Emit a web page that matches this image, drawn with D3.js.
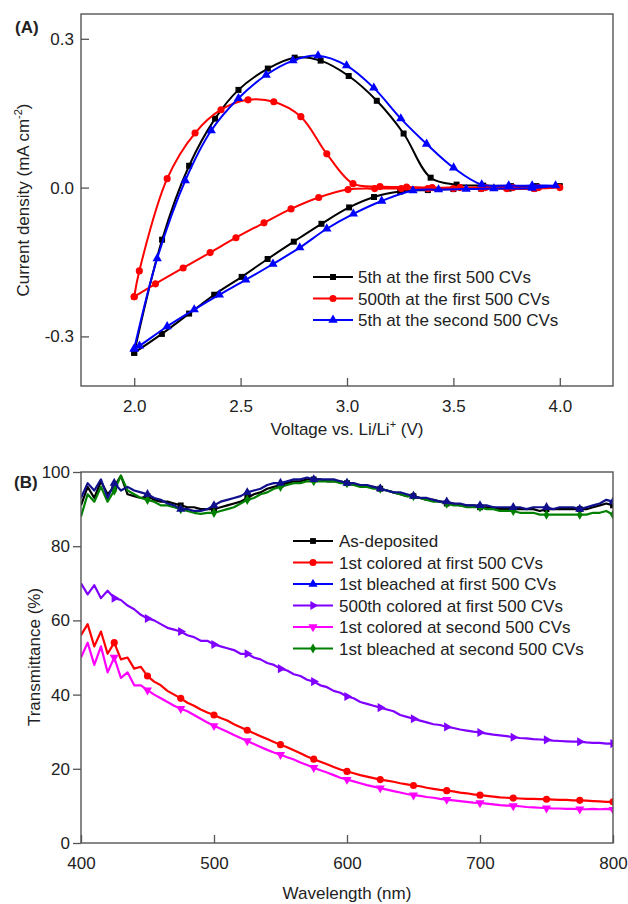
<!DOCTYPE html>
<html>
<head>
<meta charset="utf-8">
<script src="https://cdn.jsdelivr.net/npm/d3@7"></script>
<style>
  body { margin: 0; background: #fff; }
  text { font-family: "Liberation Sans", Arial, sans-serif; fill: #222; }
</style>
</head>
<body>
<svg id="chart" width="628" height="904"></svg>
<script>
// ---- panel A : cyclic voltammograms [voltage (V), current density (mA cm-2)]
const cvFirst5th = [
  [2.0,-0.333],[2.131,-0.105],[2.258,0.044],[2.38,0.139],[2.49,0.197],[2.628,0.24],[2.754,0.262],
  [2.876,0.256],[3.008,0.225],[3.14,0.175],[3.266,0.109],[3.393,0.02],[3.515,0.006],[3.64,0.004],
  [3.77,0.003],[3.89,0.003],[4.0,0.003],
  [3.88,-0.002],[3.76,-0.002],[3.63,-0.002],[3.5,-0.003],[3.38,-0.005],[3.25,-0.008],[3.127,-0.019],
  [3.01,-0.04],[2.88,-0.073],[2.75,-0.109],[2.627,-0.144],[2.505,-0.18],[2.376,-0.216],[2.258,-0.254],
  [2.13,-0.295],[2.0,-0.333]
];
const cvFirst500th = [
  [2.0,-0.22],[2.024,-0.168],[2.155,0.018],[2.286,0.11],[2.408,0.157],[2.535,0.177],[2.656,0.173],
  [2.783,0.143],[2.905,0.068],[3.028,0.008],[3.155,0.002],[3.28,0.001],[3.4,0.0],[3.53,0.0],
  [3.65,0.0],[3.78,0.0],[3.9,0.0],[4.0,0.0],
  [3.88,-0.002],[3.75,-0.002],[3.63,-0.002],[3.5,-0.002],[3.38,-0.002],[3.255,-0.002],[3.13,-0.002],
  [3.005,-0.004],[2.867,-0.02],[2.737,-0.043],[2.61,-0.071],[2.478,-0.101],[2.357,-0.131],
  [2.23,-0.162],[2.1,-0.194],[2.0,-0.22]
];
const cvSecond5th = [
  [2.0,-0.325],[2.108,-0.143],[2.24,0.014],[2.362,0.115],[2.49,0.18],[2.62,0.227],[2.746,0.256],
  [2.864,0.266],[2.998,0.246],[3.126,0.201],[3.253,0.139],[3.374,0.088],[3.501,0.04],[3.633,0.006],
  [3.76,0.004],[3.87,0.004],[3.98,0.004],
  [3.87,-0.001],[3.69,-0.002],[3.56,-0.003],[3.43,-0.004],[3.31,-0.006],[3.163,-0.027],[3.03,-0.053],
  [2.905,-0.083],[2.778,-0.121],[2.652,-0.154],[2.524,-0.186],[2.4,-0.216],[2.282,-0.246],
  [2.155,-0.28],[2.025,-0.319],[2.0,-0.325]
];
const cvNames = ["5th at the first 500 CVs", "500th at the first 500 CVs", "5th at the second 500 CVs"];
const cvTicksX = [2.0, 2.5, 3.0, 3.5, 4.0];
const cvTicksY = [-0.3, 0.0, 0.3];

// ---- panel B : transmittance spectra, 400-800 nm every 5 nm
const wavelength = d3.range(400, 801, 5);
const tAsDeposited = [91,96,93,97.5,94,96,99,94,93.5,93,93.5,92.5,92,92,91.5,91,90.5,90.5,90,90,
  90,90.5,91,91.5,92,93,94,94.5,95.5,96,96.5,97,97.5,97.5,98,98,98,97.5,97.5,97.5,
  97,96.5,96.5,96,96,95.5,95,94.5,94,93.5,93.5,93,92.5,92.5,92,91.5,91.5,91,91,91,
  90.5,90.5,90.5,90,90,90,90,90,90,89.5,90,90,90,90,90,90,90,90.5,91,91.5,91];
const tColored1st = [56,59,53,57,51,54,49.5,50,47,47.5,45,43.5,42.5,41,40,39,37.8,37,36,35.2,
  34.5,33.7,33,32,31.2,30.4,29.6,28.8,28,27.2,26.5,25.8,25,24.2,23.3,22.6,21.9,21.2,20.5,19.8,
  19.3,18.8,18.3,17.9,17.5,17.1,16.8,16.5,16.1,15.8,15.5,15.3,14.9,14.6,14.3,14.1,13.9,13.6,13.4,13.1,
  12.9,12.7,12.5,12.3,12.2,12.1,12,11.9,11.9,11.8,11.8,11.7,11.6,11.6,11.5,11.5,11.4,11.3,11.2,11.1,11.1];
const tBleached1st = [93,97,95,98,93,97,95,96,95,94.5,94,93,92.5,91.5,91,90,90,89.5,89.5,90,
  91,92,92.5,93,93.5,94.5,95,95.5,96.5,97,97,97.5,98,98,98.5,98,98,98,98,97.5,
  97,97,96.5,96.5,96,95.5,95,94.5,94.5,94,93.5,93,93,92.5,92,92,91.5,91.5,91,91,
  91,91,90.5,90.5,90.5,90.5,90.5,90,90.5,90.5,90.5,90,90.5,90.5,90.5,90,90.5,91,91.5,92.5,92];
const tColored500th = [70,67,69.5,66,68,66,65.5,64,63,61.5,60.5,60,59,58,57.5,57,56,55.5,54.5,54.5,
  53.5,53,52.5,52,51,51,50,49.5,48.5,48,47,46.5,45.5,45,44,43.5,42.5,42,41,40.5,
  39.5,39,38,37.5,37,36.5,36,35.5,34.5,34,33.5,33,32.5,32,31.8,31.3,31,30.6,30.3,30,
  29.8,29.5,29.2,29,28.8,28.5,28.3,28.2,28,27.9,27.8,27.6,27.5,27.4,27.3,27.3,27.1,27,27,26.8,26.8];
const tColored2nd = [50,54,48,53,46,50,44.5,46,42.5,42.5,41.2,40,39,38,37,36.2,35.5,34.5,33.5,32.5,
  31.6,30.8,30,29.1,28.3,27.5,26.7,25.9,25.1,24.4,23.8,23.1,22.5,21.7,21,20.3,19.6,19,18.3,17.6,
  17.1,16.6,16.1,15.6,15.2,14.8,14.4,14,13.6,13.2,12.9,12.7,12.4,12.2,11.9,11.7,11.5,11.3,11.1,10.9,
  10.8,10.6,10.4,10.2,10.1,10,9.9,9.7,9.6,9.5,9.4,9.3,9.3,9.2,9.2,9.1,9.1,9.2,9.1,9.2,9.0];
const tBleached2nd = [88,94,92,96,92,95,99,95,94,93,92.5,92,91,91,90.5,90,89.5,89,88.7,89,
  89,89.5,90,90.5,91.5,92.5,93,94,94.5,95.5,96,96.5,97,97,97.5,97.5,97.5,97.5,97.5,97,
  97,96.5,96,96,95.5,95.5,95,94.5,94,93.5,93.5,93,92.5,92,92,91.5,91,91,90.5,90.5,
  90.5,90,90,89.5,89.5,89.5,89,89,89,88.5,88.5,88.5,88.5,88.5,88.5,88.5,88.5,89,89,89.5,88.5];
const specNames = ["As-deposited", "1st colored at first 500 CVs", "1st bleached at first 500 CVs",
  "500th colored at first 500 CVs", "1st colored at second 500 CVs", "1st bleached at second 500 CVs"];
const specTicksX = [400, 500, 600, 700, 800];
const specTicksY = [0, 20, 40, 60, 80, 100];

const svg = d3.select("#chart");
const frameColor = "#555";

function symbolPath(kind, size) {
  const types = { square: d3.symbolSquare, circle: d3.symbolCircle, tri: d3.symbolTriangle,
    triR: d3.symbolTriangle, triD: d3.symbolTriangle, diamond: d3.symbolDiamond };
  return d3.symbol().type(types[kind]).size(size)();
}
function symbolRot(kind) {
  return kind === "triR" ? 90 : kind === "triD" ? 180 : 0;
}

function drawFrame(g, x, y) {
  const [x0, x1] = x.range(), [y1, y0] = y.range();
  g.append("rect").attr("x", x0).attr("y", y0).attr("width", x1 - x0).attr("height", y1 - y0)
    .attr("fill", "none").attr("stroke", frameColor).attr("stroke-width", 1.4);
}

function drawAxes(g, x, y, opt) {
  const [x0, x1] = x.range(), [y1, y0] = y.range();
  const xs = opt.xInward ? -1 : 1, ys = opt.yInward ? -1 : 1;
  // x axis
  const ax = g.append("g").attr("transform", `translate(0,${y1})`);
  ax.call(d3.axisBottom(x).tickValues(opt.xMinor).tickSize(xs * 4.5).tickFormat(""));
  ax.call(d3.axisBottom(x).tickValues(opt.xTicks).tickSize(xs * 8).tickPadding(opt.xInward ? 14 : 6).tickFormat(opt.xFmt));
  const ay = g.append("g").attr("transform", `translate(${x0},0)`);
  ay.call(d3.axisLeft(y).tickValues(opt.yMinor).tickSize(ys * 4.5).tickFormat(""));
  ay.call(d3.axisLeft(y).tickValues(opt.yTicks).tickSize(ys * 8).tickPadding(opt.yInward ? 7 : 3).tickFormat(opt.yFmt));
  [ax, ay].forEach(a => {
    a.selectAll(".domain").remove();
    a.selectAll("line").attr("stroke", frameColor).attr("stroke-width", 1.3);
    a.selectAll("text").attr("font-size", 17).attr("fill", "#222")
      .attr("font-family", "'Liberation Sans', Arial, sans-serif");
  });
}

// ================= Panel A
const xA = d3.scaleLinear().domain([1.75, 4.25]).range([81, 613]);
const yA = d3.scaleLinear().domain([-0.4, 0.35]).range([386, 14]);
const gA = svg.append("g");

const cvSeries = [
  { data: cvFirst5th, color: "#000000", sym: "square", size: 36 },
  { data: cvFirst500th, color: "#ff0000", sym: "circle", size: 40 },
  { data: cvSecond5th, color: "#0000ff", sym: "tri", size: 38 }
];
const cvLine = d3.line().x(d => xA(d[0])).y(d => yA(d[1])).curve(d3.curveCatmullRom.alpha(0.5));
cvSeries.forEach(s => {
  gA.append("path").attr("d", cvLine(s.data)).attr("fill", "none")
    .attr("stroke", s.color).attr("stroke-width", 2);
  gA.selectAll(null).data(s.data).enter().append("path")
    .attr("d", symbolPath(s.sym, s.size))
    .attr("transform", d => `translate(${xA(d[0])},${yA(d[1])}) rotate(${symbolRot(s.sym)})`)
    .attr("fill", s.color);
});
drawFrame(gA, xA, yA);
drawAxes(gA, xA, yA, {
  xTicks: cvTicksX, xMinor: [2.25, 2.75, 3.25, 3.75], xInward: true, xFmt: d => d.toFixed(1),
  yTicks: cvTicksY, yMinor: [-0.15, 0.15], yInward: true, yFmt: d => d.toFixed(1)
});

// legend A
cvSeries.forEach((s, i) => {
  const cy = 277 + i * 21.5;
  gA.append("line").attr("x1", 313).attr("x2", 353).attr("y1", cy).attr("y2", cy)
    .attr("stroke", s.color).attr("stroke-width", 2);
  gA.append("path").attr("d", symbolPath(s.sym, s.size))
    .attr("transform", `translate(333,${cy}) rotate(${symbolRot(s.sym)})`).attr("fill", s.color);
  gA.append("text").attr("x", 358).attr("y", cy + 6).attr("font-size", 17).text(cvNames[i]);
});

gA.append("text").attr("x", 15).attr("y", 33).attr("font-size", 17).attr("font-weight", "bold").text("(A)");
const titleA = gA.append("text").attr("transform", "translate(29,200) rotate(-90)")
  .attr("text-anchor", "middle").attr("font-size", 17);
titleA.append("tspan").text("Current density (mA cm");
titleA.append("tspan").attr("font-size", 11).attr("dy", -7).text("-2");
titleA.append("tspan").attr("dy", 7).text(")");
const xTitleA = gA.append("text").attr("x", 347).attr("y", 435).attr("text-anchor", "middle").attr("font-size", 17);
xTitleA.append("tspan").text("Voltage vs. Li/Li");
xTitleA.append("tspan").attr("font-size", 11).attr("dy", -7).text("+");
xTitleA.append("tspan").attr("dy", 7).text(" (V)");

// ================= Panel B
const xB = d3.scaleLinear().domain([400, 800]).range([81, 613]);
const yB = d3.scaleLinear().domain([0, 100]).range([843, 472]);
const gB = svg.append("g");

const specSeries = [
  { data: tAsDeposited, color: "#000000", line: "#000000", sym: "square", size: 34 },
  { data: tColored1st, color: "#ff0000", line: "#ff0000", sym: "circle", size: 40 },
  { data: tBleached1st, color: "#0000ff", line: "#10108c", sym: "tri", size: 36 },
  { data: tColored500th, color: "#8000ff", line: "#8000ff", sym: "triR", size: 36 },
  { data: tColored2nd, color: "#ff00ff", line: "#ff00ff", sym: "triD", size: 36 },
  { data: tBleached2nd, color: "#008000", line: "#008000", sym: "diamond", size: 30 }
];
const drawOrder = [0, 5, 2, 3, 1, 4];
const specLine = d3.line().x((d, i) => xB(wavelength[i])).y(d => yB(d));
const clipB = gB.append("clipPath").attr("id", "clipB").append("rect")
  .attr("x", 81).attr("y", 472).attr("width", 532).attr("height", 371);
drawOrder.forEach(k => {
  const s = specSeries[k];
  const g = gB.append("g").attr("clip-path", "url(#clipB)");
  g.append("path").attr("d", specLine(s.data)).attr("fill", "none")
    .attr("stroke", s.line).attr("stroke-width", 2.2).attr("stroke-linejoin", "round");
  g.selectAll(null).data(s.data.map((v, i) => [wavelength[i], v]).filter((d, i) => i > 0 && i % 5 === 0))
    .enter().append("path")
    .attr("d", symbolPath(s.sym, s.size))
    .attr("transform", d => `translate(${xB(d[0])},${yB(d[1])}) rotate(${symbolRot(s.sym)})`)
    .attr("fill", s.line);
});
drawFrame(gB, xB, yB);
drawAxes(gB, xB, yB, {
  xTicks: specTicksX, xMinor: [450, 550, 650, 750], xInward: true, xFmt: d => d,
  yTicks: specTicksY, yMinor: [10, 30, 50, 70, 90], yInward: false, yFmt: d => d
});

// legend B
specSeries.forEach((s, i) => {
  const cy = 541 + i * 21.5;
  gB.append("line").attr("x1", 293).attr("x2", 333).attr("y1", cy).attr("y2", cy)
    .attr("stroke", s.color).attr("stroke-width", 2);
  gB.append("path").attr("d", symbolPath(s.sym, s.size))
    .attr("transform", `translate(313,${cy}) rotate(${symbolRot(s.sym)})`).attr("fill", s.color);
  gB.append("text").attr("x", 339).attr("y", cy + 6).attr("font-size", 17).text(specNames[i]);
});

gB.append("text").attr("x", 14).attr("y", 488).attr("font-size", 17).attr("font-weight", "bold").text("(B)");
gB.append("text").attr("transform", "translate(40,657) rotate(-90)")
  .attr("text-anchor", "middle").attr("font-size", 17).text("Transmittance (%)");
gB.append("text").attr("x", 347).attr("y", 899).attr("text-anchor", "middle").attr("font-size", 17).text("Wavelength (nm)");
</script>
</body>
</html>
